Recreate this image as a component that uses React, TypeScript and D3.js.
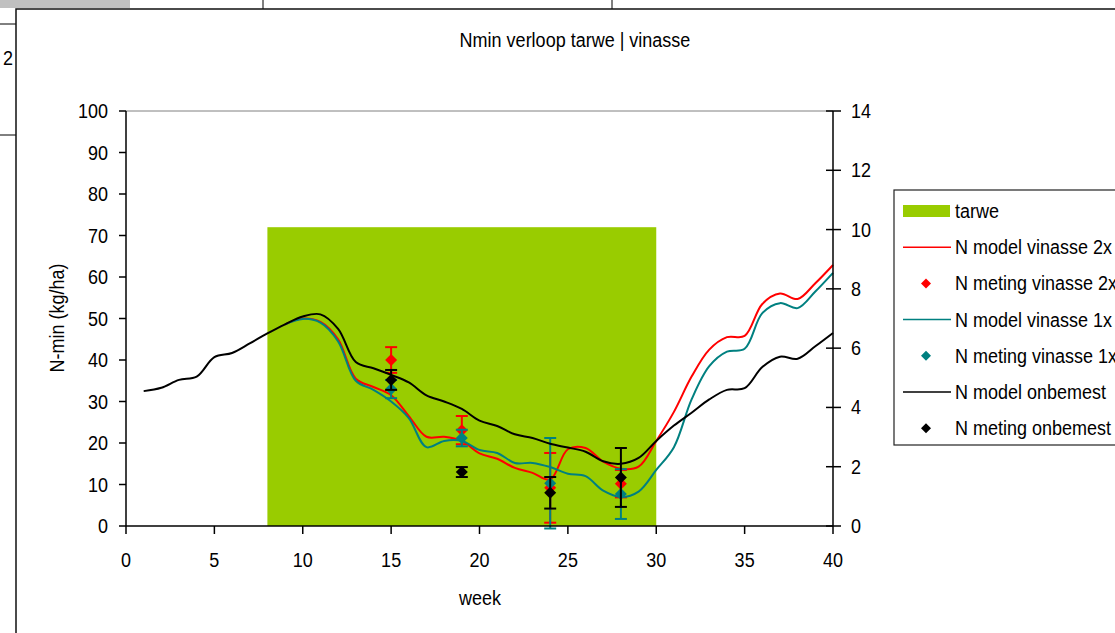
import React, { useRef, useEffect } from 'react'
import * as d3 from 'd3'

// week numbers of the model series
const weeks = [1, 2, 3, 4, 5, 6, 7, 8, 9, 10, 11, 12, 13, 14, 15, 16, 17, 18, 19, 20,
  21, 22, 23, 24, 25, 26, 27, 28, 29, 30, 31, 32, 33, 34, 35, 36, 37, 38, 39, 40]

const modelOnbemest = [32.5, 33.3, 35.2, 36.0, 40.7, 41.7, 44.0, 46.4, 48.6, 50.5,
  51.0, 47.5, 39.5, 38.0, 36.4, 34.6, 31.5, 30.0, 28.2, 25.4,
  24.1, 22.1, 21.2, 19.8, 18.9, 17.9, 15.6, 15.0, 16.4, 20.5,
  24.2, 27.3, 30.5, 32.8, 33.2, 38.3, 40.8, 40.3, 43.3, 46.5]

const modelVinasse2x = [null, null, null, null, null, null, null, null, 48.6, 50.0,
  49.2, 45.0, 35.5, 33.5, 31.5, 26.5, 21.5, 21.5, 20.5, 17.5,
  16.2, 14.0, 12.8, 11.2, 18.5, 18.8, 15.5, 13.8, 14.3, 20.5,
  27.5, 36.0, 42.5, 45.5, 45.8, 53.5, 56.0, 54.7, 58.5, 62.9]

const modelVinasse1x = [null, null, null, null, null, null, null, null, 48.6, 49.9,
  49.0, 44.5, 35.0, 32.8, 30.0, 26.0, 19.0, 20.5, 20.5, 18.3,
  17.6, 15.2, 15.2, 14.2, 12.6, 12.0, 8.5, 7.0, 8.3, 13.5,
  19.0, 30.5, 38.5, 42.0, 42.7, 51.3, 53.7, 52.5, 56.5, 61.0]

// measurements with error margins
const metingWeeks = [15, 19, 24, 28]
const metingVinasse2x = [40.0, 23.1, 9.2, 10.2]
const foutVinasse2x = [3.1, 3.4, 8.4, 3.3]
const metingVinasse1x = [33.0, 21.2, 10.3, 7.7]
const foutVinasse1x = [2.2, 2.0, 10.9, 6.0]
const metingOnbemest = [35.2, 13.0, 8.0, 11.7]
const foutOnbemest = [2.4, 1.2, 3.8, 7.1]

// crop period (tarwe)
const tarweWeeks = [8, 30]
const tarweHoogte = 72

const xTicks = [0, 5, 10, 15, 20, 25, 30, 35, 40]
const yTicks = [0, 10, 20, 30, 40, 50, 60, 70, 80, 90, 100]
const y2Ticks = [0, 2, 4, 6, 8, 10, 12, 14]

const legendItems = [
  { label: 'tarwe', type: 'rect', color: '#99CC00' },
  { label: 'N model vinasse 2x', type: 'line', color: '#FF0000' },
  { label: 'N meting vinasse 2x', type: 'marker', color: '#FF0000' },
  { label: 'N model vinasse 1x', type: 'line', color: '#008080' },
  { label: 'N meting vinasse 1x', type: 'marker', color: '#008080' },
  { label: 'N model onbemest', type: 'line', color: '#000000' },
  { label: 'N meting onbemest', type: 'marker', color: '#000000' },
]

const FONT = 'Liberation Sans, Arial, sans-serif'
const STRETCH = 1.12
const diamond = 'M0,-6L6,0L0,6L-6,0Z'

export default function App() {
  const svgRef = useRef<SVGSVGElement>(null)

  useEffect(() => {
    if (!svgRef.current) return
    const svg = d3.select(svgRef.current)
    svg.selectAll('*').remove()

    const x = d3.scaleLinear().domain([0, 40]).range([126, 833])
    const y = d3.scaleLinear().domain([0, 100]).range([526, 111])
    const y2 = d3.scaleLinear().domain([0, 14]).range([526, 111])

    const text = (g: any, tx: number, ty: number, s: string, anchor = 'start', rot = 0) =>
      g.append('text')
        .attr('transform', `translate(${tx},${ty}) rotate(${rot}) scale(1,${STRETCH})`)
        .attr('text-anchor', anchor)
        .attr('font-family', FONT)
        .attr('font-size', 18)
        .attr('fill', '#000')
        .text(s)

    // spreadsheet behind the chart
    svg.append('rect').attr('width', 1115).attr('height', 633).attr('fill', '#fff')
    svg.append('rect').attr('x', 0).attr('y', 0).attr('width', 130).attr('height', 8).attr('fill', '#C0C0C0')
    ;[263, 612].forEach(lx => {
      svg.append('line').attr('x1', lx).attr('x2', lx).attr('y1', 0).attr('y2', 9)
        .attr('stroke', '#000').attr('stroke-width', 1)
    })
    ;[24, 135].forEach(ly => {
      svg.append('line').attr('x1', 0).attr('x2', 16).attr('y1', ly).attr('y2', ly)
        .attr('stroke', '#000').attr('stroke-width', 1)
    })
    text(svg, 3, 65, '2')

    // chart frame
    svg.append('rect').attr('x', 16).attr('y', 9).attr('width', 1120).attr('height', 640)
      .attr('fill', '#fff').attr('stroke', '#111').attr('stroke-width', 1.5)

    text(svg, 575, 47, 'Nmin verloop tarwe | vinasse', 'middle')

    // plot area top border
    svg.append('line').attr('x1', x(0)).attr('x2', x(40)).attr('y1', y(100)).attr('y2', y(100))
      .attr('stroke', '#808080').attr('stroke-width', 1)

    // tarwe block
    svg.append('rect')
      .attr('x', x(tarweWeeks[0]))
      .attr('y', y(tarweHoogte))
      .attr('width', x(tarweWeeks[1]) - x(tarweWeeks[0]))
      .attr('height', y(0) - y(tarweHoogte))
      .attr('fill', '#99CC00')

    const line = d3.line<any>()
      .defined(d => d[1] != null)
      .x(d => x(d[0]))
      .y(d => y(d[1]))
      .curve(d3.curveCatmullRom.alpha(0.5))

    const drawModel = (vals: (number | null)[], color: string) => {
      svg.append('path')
        .attr('d', line(weeks.map((w, i) => [w, vals[i]])))
        .attr('fill', 'none').attr('stroke', color).attr('stroke-width', 2)
    }

    const drawMeting = (vals: number[], errs: number[], color: string) => {
      const g = svg.append('g')
      metingWeeks.forEach((w, i) => {
        const cx = x(w)
        const top = y(vals[i] + errs[i])
        const bot = y(vals[i] - errs[i])
        g.append('line').attr('x1', cx).attr('x2', cx).attr('y1', top).attr('y2', bot)
          .attr('stroke', color).attr('stroke-width', 2)
        ;[top, bot].forEach(cy => {
          g.append('line').attr('x1', cx - 6).attr('x2', cx + 6).attr('y1', cy).attr('y2', cy)
            .attr('stroke', color).attr('stroke-width', 2)
        })
      })
      metingWeeks.forEach((w, i) => {
        g.append('path').attr('d', diamond)
          .attr('transform', `translate(${x(w)},${y(vals[i])})`)
          .attr('fill', color)
      })
    }

    drawModel(modelVinasse2x, '#FF0000')
    drawMeting(metingVinasse2x, foutVinasse2x, '#FF0000')
    drawModel(modelVinasse1x, '#008080')
    drawMeting(metingVinasse1x, foutVinasse1x, '#008080')
    drawModel(modelOnbemest, '#000000')
    drawMeting(metingOnbemest, foutOnbemest, '#000000')

    // axes
    const axis = svg.append('g').attr('stroke', '#000').attr('stroke-width', 1.5)
    axis.append('line').attr('x1', x(0)).attr('x2', x(0)).attr('y1', y(100)).attr('y2', y(0))
    axis.append('line').attr('x1', x(0)).attr('x2', x(40)).attr('y1', y(0)).attr('y2', y(0))
    axis.append('line').attr('x1', x(40)).attr('x2', x(40)).attr('y1', y(100)).attr('y2', y(0))

    yTicks.forEach(t => {
      axis.append('line').attr('x1', x(0) - 7).attr('x2', x(0)).attr('y1', y(t)).attr('y2', y(t))
      text(svg, 108, y(t) + 7, String(t), 'end')
    })
    xTicks.forEach(t => {
      axis.append('line').attr('x1', x(t)).attr('x2', x(t)).attr('y1', y(0)).attr('y2', y(0) + 8)
      text(svg, x(t), 567, String(t), 'middle')
    })
    y2Ticks.forEach(t => {
      axis.append('line').attr('x1', x(40) - 7).attr('x2', x(40) + 8).attr('y1', y2(t)).attr('y2', y2(t))
      text(svg, 851, y2(t) + 7, String(t), 'start')
    })

    text(svg, 480, 605, 'week', 'middle')
    text(svg, 64, 318, 'N-min (kg/ha)', 'middle', -90)

    // legend
    const lg = svg.append('g').attr('transform', 'translate(894,190)')
    lg.append('rect').attr('width', 240).attr('height', 255)
      .attr('fill', '#fff').attr('stroke', '#222').attr('stroke-width', 1.2)
    legendItems.forEach((it, i) => {
      const cy = 21 + i * 36.2
      if (it.type === 'rect') {
        lg.append('rect').attr('x', 9).attr('y', cy - 6).attr('width', 47).attr('height', 12).attr('fill', it.color)
      } else if (it.type === 'line') {
        lg.append('line').attr('x1', 9).attr('x2', 57).attr('y1', cy).attr('y2', cy)
          .attr('stroke', it.color).attr('stroke-width', 1.5)
      } else {
        lg.append('path').attr('d', 'M0,-5L5,0L0,5L-5,0Z')
          .attr('transform', `translate(32,${cy})`).attr('fill', it.color)
      }
      text(lg, 61, cy + 7, it.label)
    })
  }, [])

  return (
    <svg ref={svgRef} width={1115} height={633}
      style={{ position: 'absolute', left: 0, top: 0, display: 'block' }} />
  )
}
